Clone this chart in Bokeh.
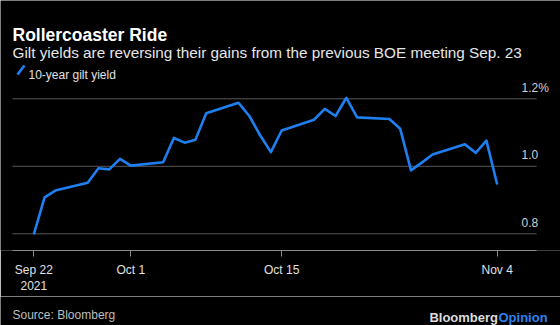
import pandas as pd
from bokeh.plotting import figure
from bokeh.layouts import column
from bokeh.models import (Range1d, FixedTicker, Label, LabelSet,
                          ColumnDataSource, Arrow)
from bokeh.core.properties import value
from bokeh.embed import file_html
from bokeh.resources import INLINE

# ---- data ----
dates = ["2021-09-22", "2021-09-23", "2021-09-24", "2021-09-27", "2021-09-28",
         "2021-09-29", "2021-09-30", "2021-10-01", "2021-10-04", "2021-10-05",
         "2021-10-06", "2021-10-07", "2021-10-08", "2021-10-11", "2021-10-12",
         "2021-10-13", "2021-10-14", "2021-10-15", "2021-10-18", "2021-10-19",
         "2021-10-20", "2021-10-21", "2021-10-22", "2021-10-25", "2021-10-26",
         "2021-10-27", "2021-10-28", "2021-10-29", "2021-11-01", "2021-11-02",
         "2021-11-03", "2021-11-04"]
gilt_10y = [0.798, 0.908, 0.928, 0.951, 0.994,
            0.991, 1.022, 1.002, 1.012, 1.084,
            1.070, 1.079, 1.157, 1.188, 1.149,
            1.092, 1.042, 1.106, 1.138, 1.170,
            1.149, 1.203, 1.145, 1.140, 1.111,
            0.988, 1.011, 1.035, 1.065, 1.040,
            1.076, 0.946]
x_tick_dates = ["2021-09-22", "2021-10-01", "2021-10-15", "2021-11-04"]
x_tick_labels = ["Sep 22\n2021", "Oct 1", "Oct 15", "Nov 4"]
y_ticks = [0.8, 1.0, 1.2]
y_tick_labels = ["0.8", "1.0", "1.2%"]

title_text = "Rollercoaster Ride"
subtitle_text = "Gilt yields are reversing their gains from the previous BOE meeting Sep. 23"
legend_text = "10-year gilt yield"
source_text = "Source: Bloomberg"

FONT = "Liberation Sans"
BLUE = "#1e7ff0"
BG = "#000000"
GRID = "#5a5a5a"

x = pd.to_datetime(dates)
first = pd.Timestamp(x_tick_dates[0])
last = pd.Timestamp(x_tick_dates[-1])
day = pd.Timedelta(days=1)

# frame spans the whole width and the top 250 px; axis below it
p = figure(frame_width=560, frame_height=250, x_axis_type="datetime",
           y_axis_location=None, output_backend="svg", toolbar_location=None,
           background_fill_color=BG, border_fill_color=BG, outline_line_color=None,
           min_border_left=0, min_border_right=0, min_border_top=0,
           min_border_bottom=45)
x_start = first - 3.090 * day
p.x_range = Range1d(x_start, x_start + 51.962 * day)
p.y_range = Range1d(0.7505, 0.7505 + 250 / 337.5)
p.grid.visible = False

grid_left = first - 1.976 * day
grid_right = last + 3.647 * day

# horizontal gridlines
p.segment(x0=[grid_left] * len(y_ticks), y0=y_ticks,
          x1=[grid_right] * len(y_ticks), y1=y_ticks,
          line_color=GRID, line_width=1)

p.line(x, gilt_10y, line_color=BLUE, line_width=2.6, line_join="round")

# x axis
tick_ms = [int(pd.Timestamp(d).value // 10**6) for d in x_tick_dates]
ax = p.xaxis[0]
ax.ticker = FixedTicker(ticks=tick_ms)
ax.major_label_overrides = {t: l for t, l in zip(tick_ms, x_tick_labels)}
ax.bounds = (grid_left, grid_right)
ax.axis_line_color = "#8a8a8a"
ax.major_tick_line_color = "#8a8a8a"
ax.major_tick_out = 6
ax.major_tick_in = 0
ax.minor_tick_line_color = None
ax.major_label_text_color = "#e0e0e0"
ax.major_label_text_font = FONT
ax.major_label_text_font_size = "12px"
ax.major_label_standoff = 6

# y labels above gridlines
ysrc = ColumnDataSource(dict(y=y_ticks, text=y_tick_labels, x=[521] * len(y_ticks)))
p.add_layout(LabelSet(x="x", y="y", text="text", source=ysrc, x_units="screen",
                      y_units="data", y_offset=7, text_font=value(FONT),
                      text_font_size=value("12px"), text_color=value("#d0d0d0"),
                      text_baseline="alphabetic", text_align="left"))

# headings (screen units: x from left, y up from the frame bottom at 250 px)
p.add_layout(Label(x=12, y=216, x_units="screen", y_units="screen", text=title_text,
                   text_font=FONT, text_font_size="17.5px", text_font_style="bold",
                   text_color="#ffffff", text_baseline="alphabetic"))
p.add_layout(Label(x=12, y=198, x_units="screen", y_units="screen", text=subtitle_text,
                   text_font=FONT, text_font_size="15.3px", text_color="#e6e6e6",
                   text_baseline="alphabetic"))
p.add_layout(Arrow(x_start=17, y_start=176, x_end=24, y_end=185,
                   start_units="screen", end_units="screen", end=None,
                   line_color=BLUE, line_width=2.8))
p.add_layout(Label(x=28, y=176, x_units="screen", y_units="screen", text=legend_text,
                   text_font=FONT, text_font_size="12px", text_color="#e0e0e0",
                   text_baseline="alphabetic"))

# footer strip
f = figure(frame_width=560, frame_height=30, x_axis_location=None,
           y_axis_location=None, output_backend="svg", toolbar_location=None,
           background_fill_color=BG, border_fill_color=BG, outline_line_color=None,
           min_border=0, x_range=Range1d(0, 1), y_range=Range1d(0, 1))
f.grid.visible = False
f.add_layout(Label(x=12, y=12, x_units="screen", y_units="screen", text=source_text,
                   text_font=FONT, text_font_size="12px", text_color="#bdbdbd",
                   text_baseline="alphabetic"))
f.add_layout(Label(x=497.5, y=9, x_units="screen", y_units="screen", text="Bloomberg",
                   text_font=FONT, text_font_size="13px", text_font_style="bold",
                   text_color="#dcdcdc", text_baseline="alphabetic", text_align="right"))
f.add_layout(Label(x=498, y=9, x_units="screen", y_units="screen", text="Opinion",
                   text_font=FONT, text_font_size="13px", text_font_style="bold",
                   text_color="#2b84f0", text_baseline="alphabetic", text_align="left"))

layout = column(p, f, spacing=0)
open("out.html", "w").write(file_html(layout, INLINE))
